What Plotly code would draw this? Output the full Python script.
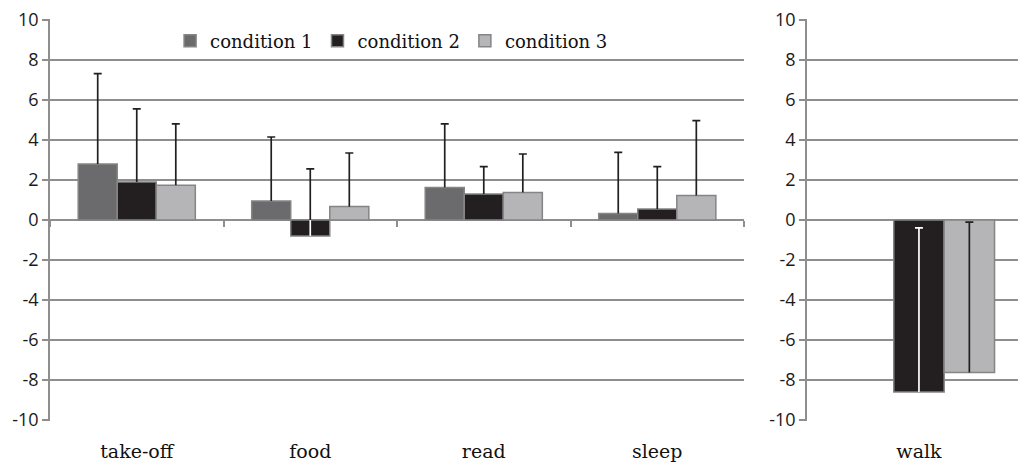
import plotly.graph_objects as go

categories = ["take-off", "food", "read", "sleep"]
categories_right = ["walk"]
series_names = ["condition 1", "condition 2", "condition 3"]

cond1 = [2.80, 0.95, 1.63, 0.33]
cond2 = [1.90, -0.80, 1.30, 0.55]
cond3 = [1.74, 0.67, 1.38, 1.23]
cond1_err = [4.52, 3.20, 3.18, 3.05]
cond2_err = [3.66, 3.36, 1.37, 2.12]
cond3_err = [3.07, 2.68, 1.92, 3.74]

walk1 = [None]
walk2 = [-8.60]
walk3 = [-7.62]
walk1_err = [0]
walk2_err = [8.21]
walk3_err = [7.51]

y_ticks = [-10, -8, -6, -4, -2, 0, 2, 4, 6, 8, 10]
y_tick_labels = ["-10", "-8", "-6", "-4", "-2", "0", "2", "4", "6", "8", "10"]

colors = ["#6b6b6d", "#231f20", "#b5b5b7"]
outline = "#858585"
grid = "#8e8e8e"
err_col = "#231f20"
BW = 0.225
offsets = [-0.3375, -0.1125, 0.1125]
THK = 1.7
CAP = 4

fig = go.Figure()

left = [(cond1, cond1_err), (cond2, cond2_err), (cond3, cond3_err)]
right = [(walk1, walk1_err), (walk2, walk2_err), (walk3, walk3_err)]


def ebar(arr, color, cap):
    return dict(type="data", symmetric=False, array=arr,
                arrayminus=[0] * len(arr), color=color,
                thickness=THK, width=cap)


clear = dict(color="rgba(0,0,0,0)", line=dict(width=0))

# bars with their (cap-less) upward error lines
for i, name in enumerate(series_names):
    for (vals, errs), cats, xa, ya, show in (
        (left[i], categories, "x", "y", True),
        (right[i], categories_right, "x2", "y2", False),
    ):
        fig.add_trace(go.Bar(
            x=cats, y=vals, name=name, width=BW, offset=offsets[i],
            marker=dict(color=colors[i], line=dict(color=outline, width=1.5)),
            error_y=ebar(errs, err_col, 0),
            xaxis=xa, yaxis=ya, legendgroup=name, showlegend=show,
        ))

# caps at the top of each error bar
for i, name in enumerate(series_names):
    for (vals, errs), cats, xa, ya in (
        (left[i], categories, "x3", "y"),
        (right[i], categories_right, "x2", "y2"),
    ):
        tops = [None if v is None else v + e for v, e in zip(vals, errs)]
        fig.add_trace(go.Bar(
            x=cats, y=tops, width=BW, offset=offsets[i], marker=clear,
            error_y=ebar([0] * len(tops), err_col, CAP),
            xaxis=xa, yaxis=ya, showlegend=False, hoverinfo="skip",
        ))


# white part of condition-2 error bars where they run inside the dark bar
def white_overlay(cats, vals, errs, xa, ya):
    ys, es, caps = [], [], []
    for v, e in zip(vals, errs):
        if v is not None and v < 0:
            ys.append(v)
            es.append(min(e, -v))
            caps.append(v + e if v + e < 0 else None)
        else:
            ys.append(None)
            es.append(0)
            caps.append(None)
    fig.add_trace(go.Bar(
        x=cats, y=ys, width=BW, offset=offsets[1], marker=clear,
        error_y=ebar(es, "white", 0),
        xaxis=xa, yaxis=ya, showlegend=False, hoverinfo="skip",
    ))
    fig.add_trace(go.Bar(
        x=cats, y=caps, width=BW, offset=offsets[1], marker=clear,
        error_y=ebar([0] * len(caps), "white", CAP),
        xaxis=xa, yaxis=ya, showlegend=False, hoverinfo="skip",
    ))


white_overlay(categories, cond2, cond2_err, "x3", "y")
white_overlay(categories_right, walk2, walk2_err, "x2", "y2")

tickfont = dict(family="Open Sans, Liberation Sans, sans-serif", size=18, color="#1a1a1a")
catfont = dict(family="DejaVu Serif, serif", size=19, color="#111111")

yax = dict(range=[-10.05, 10.05], tickvals=y_ticks, ticktext=y_tick_labels,
           showgrid=True, gridcolor=grid, ticklabeloverflow="allow",
           automargin=False,
           gridwidth=1.6, zeroline=True, zerolinecolor=grid, zerolinewidth=1.6,
           showline=True, linecolor=grid, linewidth=1.6, ticks="outside",
           ticklen=6, tickcolor=grid, tickwidth=1.6, tickfont=tickfont)

fig.update_layout(
    width=1018, height=455,
    margin=dict(l=42, r=0, t=11, b=42, autoexpand=False),
    paper_bgcolor="white", plot_bgcolor="white",
    barmode="overlay",
    xaxis=dict(domain=[0, 0.7111], type="category", categoryarray=categories,
               range=[-0.5, 3.5], anchor="y", showgrid=False, showline=False,
               ticks="outside", ticklen=13, tickcolor="rgba(0,0,0,0)",
               tickfont=catfont, automargin=False),
    xaxis3=dict(domain=[0, 0.7111], type="category", categoryarray=categories,
                range=[-0.5, 3.5], overlaying="x", anchor="free", position=0.5,
                showticklabels=False, ticks="outside", tickson="boundaries",
                ticklen=6, tickcolor=grid, tickwidth=1.6, showgrid=False,
                showline=False, automargin=False),
    xaxis2=dict(domain=[0.7756, 1], type="category", categoryarray=categories_right,
                range=[-0.5, 0.478], anchor="y2", showgrid=False, showline=False,
                ticks="outside", ticklen=13, tickcolor="rgba(0,0,0,0)",
                tickfont=catfont, automargin=False),
    yaxis=dict(**yax, anchor="x"),
    yaxis2=dict(**yax, anchor="x2"),
    legend=dict(orientation="h", x=0.350, y=0.945, xanchor="center", yanchor="middle",
                font=dict(family="DejaVu Serif, serif", size=18, color="#111111"),
                bgcolor="rgba(0,0,0,0)", itemwidth=30, traceorder="normal"),
    showlegend=True,
)

fig.write_html("out.html")
